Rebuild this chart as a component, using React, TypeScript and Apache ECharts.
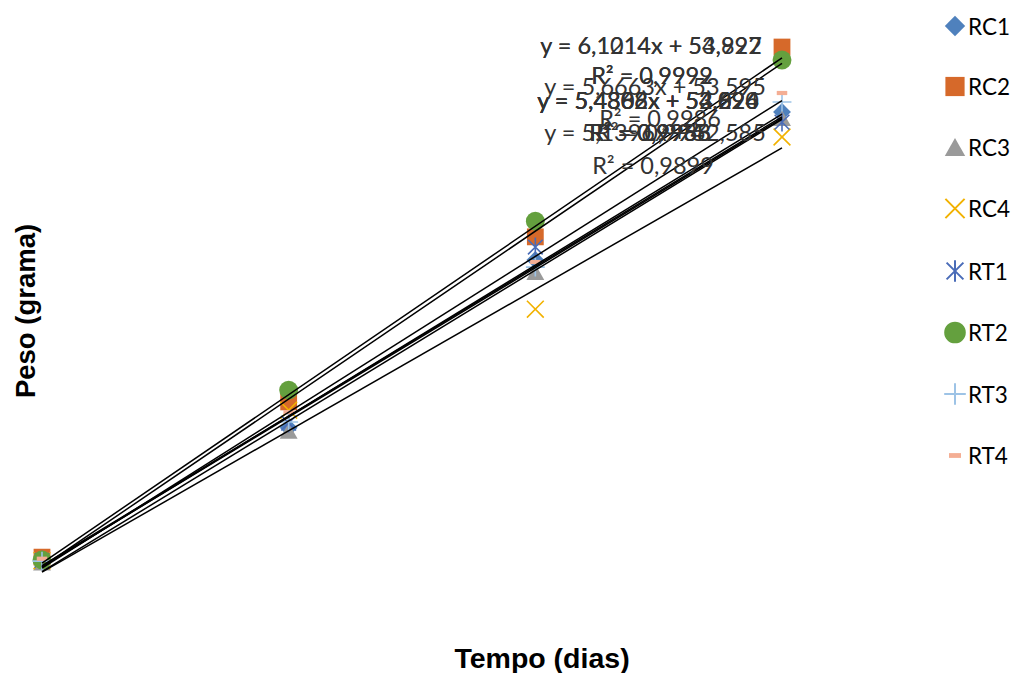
import React, { useEffect, useRef } from 'react';
import * as echarts from 'echarts';

// Time (days) for the four weighings
const days = [0, 7, 14, 21];

// Series names
const seriesNames = ['RC1', 'RC2', 'RC3', 'RC4', 'RT1', 'RT2', 'RT3', 'RT4'];

// Weight (grams) per series
const rc1 = [55.3, 89.3, 132.0, 169.7];
const rc2 = [56.4, 95.9, 137.9, 186.2];
const rc3 = [55.0, 88.5, 128.9, 168.1];
const rc4 = [55.5, 93.8, 119.5, 163.3];
const rt1 = [55.6, 90.5, 135.3, 167.1];
const rt2 = [55.7, 98.9, 141.9, 182.9];
const rt3 = [55.4, 90.8, 130.2, 172.2];
const rt4 = [56.0, 93.3, 131.5, 174.5];
const seriesValues = [rc1, rc2, rc3, rc4, rt1, rt2, rt3, rt4];

// Linear trendlines (slope, intercept)
const slopes = [5.4302, 6.1014, 5.4806, 5.1396, 5.4388, 6.1214, 5.4862, 5.6663];
const intercepts = [54.024, 53.927, 52.696, 52.585, 54.22, 54.892, 53.896, 53.595];
const eqTexts = [
  'y = 5,4302x + 54,024',
  'y = 6,1014x + 53,927',
  'y = 5,4806x + 52,696',
  'y = 5,1396x + 52,585',
  'y = 5,4388x + 54,220',
  'y = 6,1214x + 54,892',
  'y = 5,4862x + 53,896',
  'y = 5,6663x + 53,595',
];
const r2Texts = [
  'R² = 0,9966',
  'R² = 0,9992',
  'R² = 0,9958',
  'R² = 0,9899',
  'R² = 0,994',
  'R² = 0,9999',
  'R² = 0,9988',
  'R² = 0,9986',
];

// Styling
const colors = ['#4F81BD', '#D6692A', '#9A9A9A', '#F2B200', '#4A6CB8', '#64A03E', '#9DC3E6', '#F4AE94'];
const symbols = [
  'path://M0,0M20,20M10,1.5L18.5,10L10,18.5L1.5,10Z',
  'path://M0,0M20,20M2,2H18V18H2Z',
  'path://M0,0M20,20M10,2.5L18.5,17.5H1.5Z',
  'path://M0,0M20,20M2,2L18,18M18,2L2,18',
  'path://M0,0M20,20M3,3L17,17M17,3L3,17M10,1L10,19',
  'path://M0,0M20,20M1,10A9,9,0,1,1,19,10A9,9,0,1,1,1,10Z',
  'path://M0,0M20,20M10,1V19M1,10H19',
  'path://M0,0M20,20M5,8H15V12H5Z',
];
const stroked = [false, false, false, true, true, false, true, false];
// label positions (eq center, r2 center)
const eqPos = [
  [648, 100], [651, 45], [648, 100], [655, 132], [648, 100], [651, 45], [648, 100], [655, 86],
];
const r2Pos = [
  [650, 132], [652, 75], [650, 132], [653, 165], [650, 132], [652, 75], [650, 132], [660, 118],
];

export default function App() {
  const ref = useRef<HTMLDivElement>(null);
  useEffect(() => {
    if (!ref.current) return;
    const chart = echarts.init(ref.current, undefined, { renderer: 'svg' });
    const scatter = seriesNames.map((name, i) => ({
      type: 'scatter',
      name,
      data: days.map((d, j) => [d, seriesValues[i][j]]),
      symbol: symbols[i],
      symbolSize: 21,
      itemStyle: {
        color: colors[i],
        borderColor: colors[i],
        borderWidth: stroked[i] ? 1.6 : 0,
        opacity: 1,
      },
      z: 2,
      silent: true,
    }));
    const trends = seriesNames.map((name, i) => ({
      type: 'line',
      name: name + ' tendência',
      data: [
        [days[0], intercepts[i]],
        [days[days.length - 1], slopes[i] * days[days.length - 1] + intercepts[i]],
      ],
      symbol: 'none',
      lineStyle: { color: '#000', width: 1.5 },
      itemStyle: { color: '#000' },
      z: 5,
      silent: true,
    }));
    const labelFont = '23.5px Lato';
    const labels: any[] = [];
    seriesNames.forEach((_, i) => {
      labels.push({
        type: 'text',
        x: eqPos[i][0],
        y: eqPos[i][1],
        z: 100,
        style: { text: eqTexts[i], font: labelFont, fill: '#333333', align: 'center', verticalAlign: 'middle', textAlign: 'center', textVerticalAlign: 'middle' },
      });
      labels.push({
        type: 'text',
        x: r2Pos[i][0],
        y: r2Pos[i][1],
        z: 100,
        style: { text: r2Texts[i], font: labelFont, fill: '#333333', align: 'center', verticalAlign: 'middle', textAlign: 'center', textVerticalAlign: 'middle' },
      });
    });
    labels.push({
      type: 'text',
      x: 542,
      y: 658,
      style: { text: 'Tempo (dias)', font: 'bold 28.5px "Liberation Sans", Arial', fill: '#000', align: 'center', verticalAlign: 'middle', textAlign: 'center', textVerticalAlign: 'middle' },
    });
    labels.push({
      type: 'text',
      x: 25,
      y: 311,
      rotation: Math.PI / 2,
      style: { text: 'Peso (grama)', font: 'bold 27.5px "Liberation Sans", Arial', fill: '#000', align: 'center', verticalAlign: 'middle', textAlign: 'center', textVerticalAlign: 'middle' },
    });
    chart.setOption({
      animation: false,
      backgroundColor: '#fff',
      grid: { left: 42, right: 234, top: 32.1, bottom: 90.7, containLabel: false },
      xAxis: {
        type: 'value', min: 0, max: 21,
        axisLine: { show: false }, axisTick: { show: false }, axisLabel: { show: false }, splitLine: { show: false },
      },
      yAxis: {
        type: 'value', min: 50, max: 190,
        axisLine: { show: false }, axisTick: { show: false }, axisLabel: { show: false }, splitLine: { show: false },
      },
      legend: {
        orient: 'vertical',
        left: 937,
        top: 9,
        itemWidth: 24,
        itemHeight: 24,
        itemGap: 36.5,
        selectedMode: false,
        data: seriesNames,
        textStyle: { fontFamily: 'Lato', fontSize: 22.5, color: '#000', padding: [0, 0, 0, -4] },
      },
      graphic: labels,
      series: [...scatter, ...trends],
    });
    return () => chart.dispose();
  }, []);
  return <div ref={ref} style={{ position: 'fixed', left: 0, top: 0, width: 1016, height: 673, background: '#fff' }} />;
}
